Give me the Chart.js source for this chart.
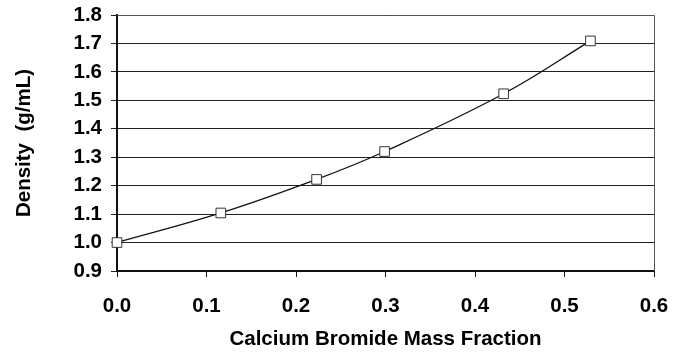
<!DOCTYPE html>
<html>
<head>
<meta charset="utf-8">
<script src="https://cdn.jsdelivr.net/npm/chart.js@4/dist/chart.umd.min.js"></script>
<style>
  html, body { margin: 0; padding: 0; background: #fff; }
  #wrap { width: 673px; height: 356px; position: relative; }
</style>
</head>
<body>
<div id="wrap"><canvas id="c" width="673" height="356"></canvas></div>
<script>
// Density of aqueous calcium bromide solutions vs. mass fraction
const massFraction = [0.0, 0.116, 0.223, 0.299, 0.432, 0.529];
const density      = [1.000, 1.104, 1.222, 1.320, 1.523, 1.709];

const xTicks = [0.0, 0.1, 0.2, 0.3, 0.4, 0.5, 0.6];
const yTicks = [0.9, 1.0, 1.1, 1.2, 1.3, 1.4, 1.5, 1.6, 1.7, 1.8];

const xTitle = 'Calcium Bromide Mass Fraction';
const yTitle = 'Density  (g/mL)';

const FONT = '"Liberation Sans", Arial, sans-serif';
const FS = 20.5;

// outline on the top and right edges of the plot area
const frame = {
  id: 'frame',
  afterDraw(chart) {
    const { ctx, chartArea: a } = chart;
    ctx.save();
    ctx.strokeStyle = '#555';
    ctx.lineWidth = 1;
    ctx.beginPath();
    ctx.moveTo(a.left, a.top + 0.5);
    ctx.lineTo(a.right + 0.5, a.top + 0.5);
    ctx.lineTo(a.right + 0.5, a.bottom);
    ctx.stroke();
    ctx.restore();
  }
};

new Chart(document.getElementById('c'), {
  type: 'scatter',
  data: {
    datasets: [{
      data: massFraction.map((x, i) => ({ x, y: density[i] })),
      showLine: true,
      clip: false,
      tension: 0.4,
      borderColor: '#111',
      borderWidth: 1.3,
      pointStyle: 'rect',
      pointRadius: 6.8,
      pointHoverRadius: 6.8,
      pointBackgroundColor: '#fff',
      pointBorderColor: '#333',
      pointBorderWidth: 1
    }]
  },
  options: {
    responsive: false,
    animation: false,
    devicePixelRatio: 1,
    layout: { padding: { top: 15, right: 19, left: 0, bottom: 0 } },
    plugins: { legend: { display: false }, tooltip: { enabled: false } },
    scales: {
      x: {
        type: 'linear',
        min: 0, max: 0.6,
        afterBuildTicks: s => { s.ticks = xTicks.map(v => ({ value: v })); },
        afterFit: s => { s.height = 85; s.paddingLeft = 0; s.paddingRight = 0; },
        grid: { drawOnChartArea: false, drawTicks: true, tickLength: 6, color: '#111', lineWidth: 1 },
        border: { display: true, color: '#111', width: 2 },
        ticks: {
          padding: 17,
          color: '#000',
          font: { family: FONT, size: FS, weight: 'bold' },
          callback: v => Number(v).toFixed(1)
        },
        title: {
          display: true, text: xTitle, color: '#000',
          font: { family: FONT, size: FS, weight: 'bold' },
          padding: { top: 0, bottom: 4 }
        }
      },
      y: {
        type: 'linear',
        min: 0.9, max: 1.8,
        afterBuildTicks: s => { s.ticks = yTicks.map(v => ({ value: v })); },
        afterFit: s => { s.width = 117; s.paddingTop = 0; s.paddingBottom = 0; },
        grid: { drawOnChartArea: true, drawTicks: true, tickLength: 6, color: '#222', lineWidth: 1 },
        border: { display: true, color: '#111', width: 2 },
        ticks: {
          padding: 9,
          color: '#000',
          font: { family: FONT, size: FS, weight: 'bold' },
          callback: v => Number(v).toFixed(1)
        },
        title: {
          display: true, text: yTitle, color: '#000',
          font: { family: FONT, size: FS, weight: 'bold' },
          padding: { top: 12, bottom: 0 }
        }
      }
    }
  },
  plugins: [frame]
});
</script>
</body>
</html>
